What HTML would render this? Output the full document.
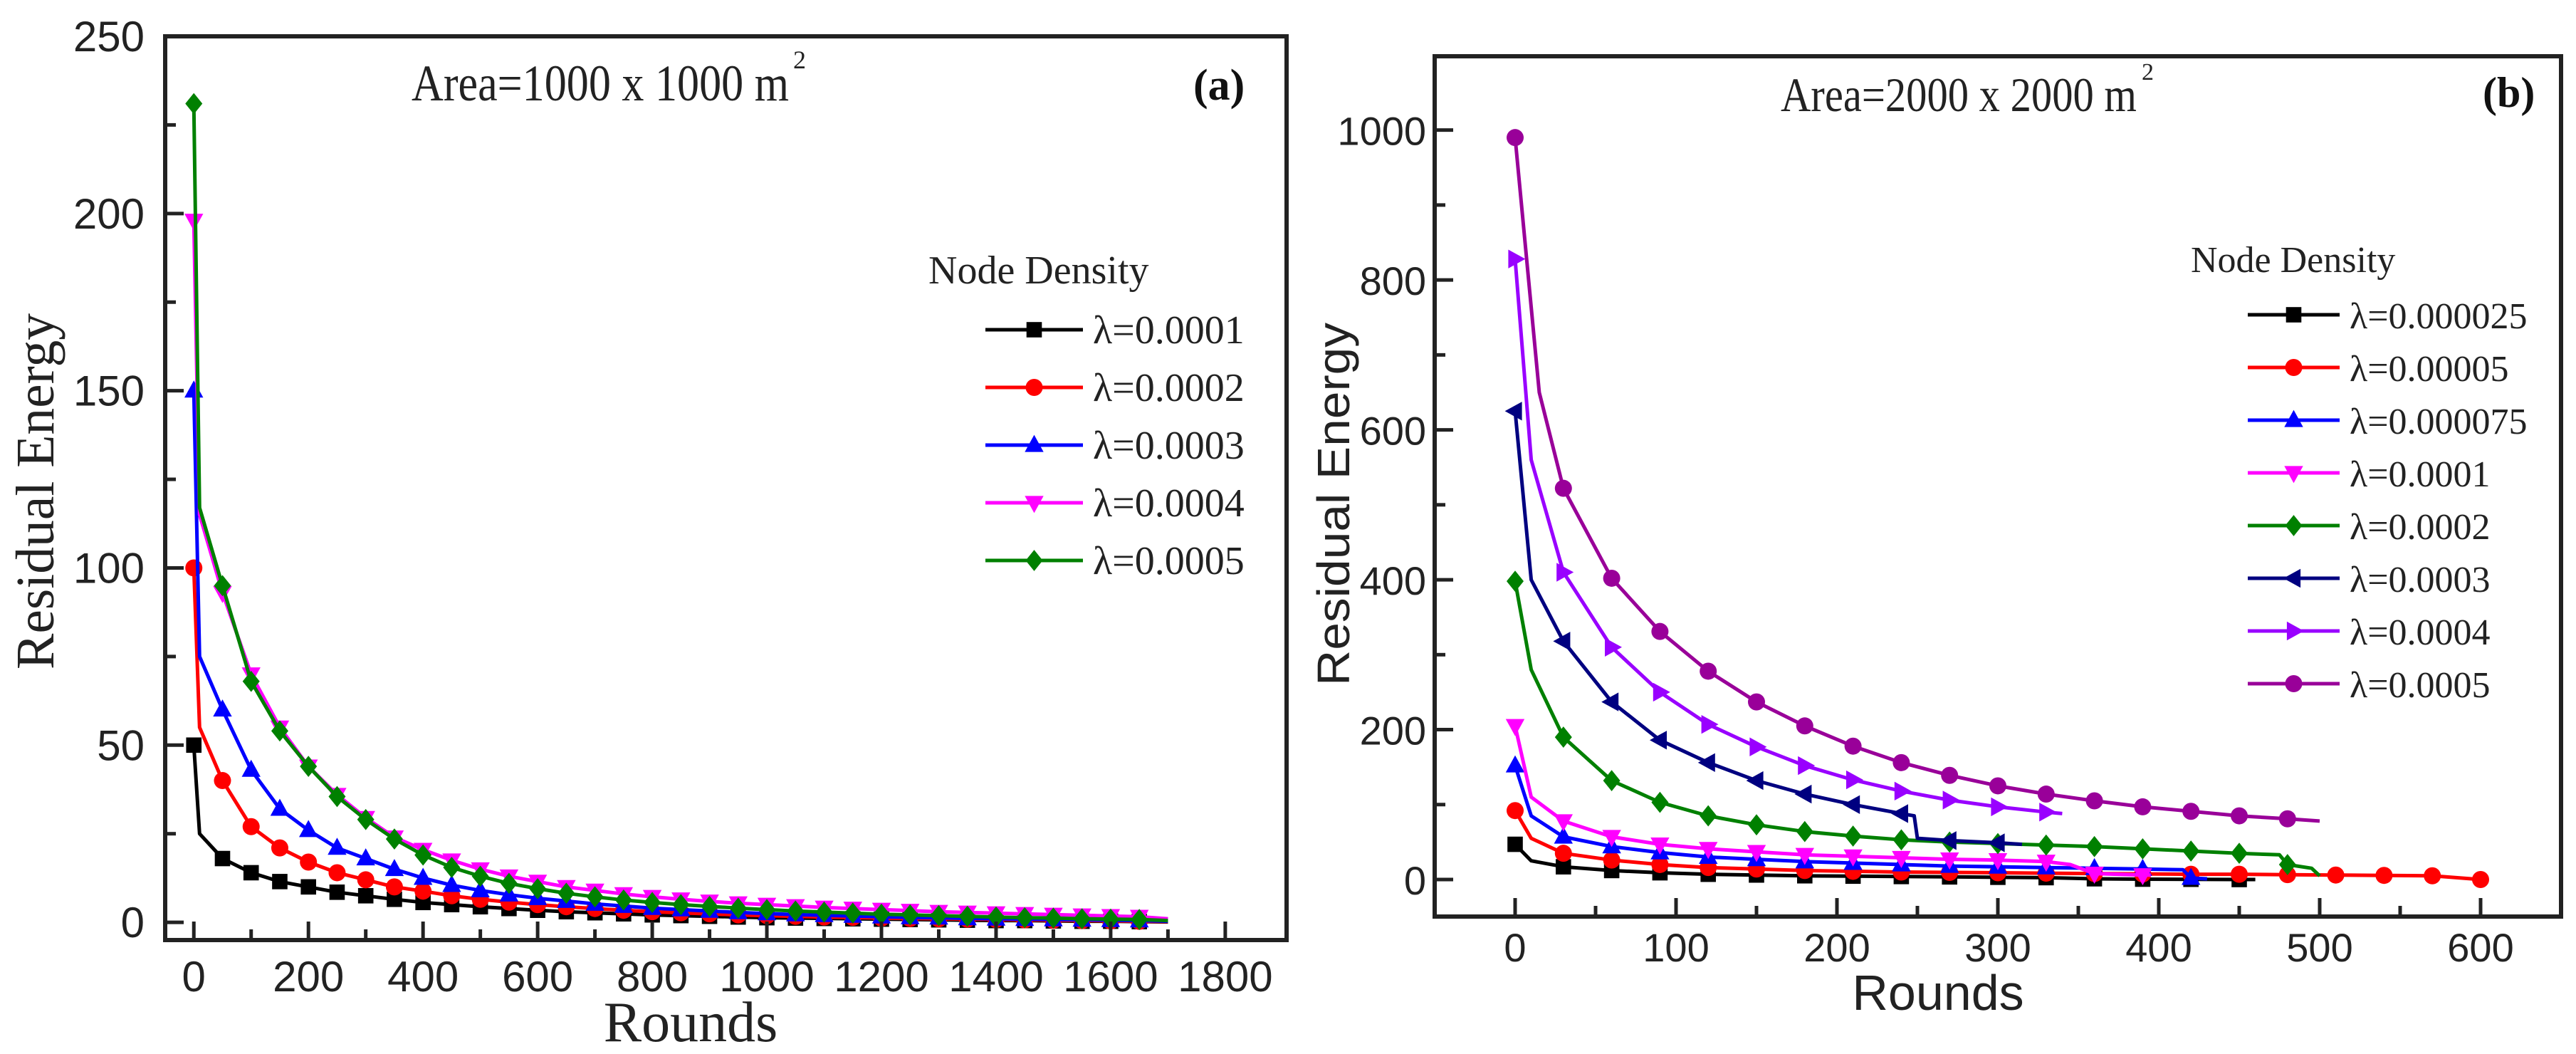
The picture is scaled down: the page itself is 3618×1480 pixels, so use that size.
<!DOCTYPE html>
<html><head><meta charset="utf-8"><style>
html,body{margin:0;padding:0;background:#fff;}
svg{display:block;}
</style></head><body>
<svg id="fig" xmlns="http://www.w3.org/2000/svg" width="3618" height="1480" viewBox="0 0 3618 1480">
<rect x="0" y="0" width="3618" height="1480" fill="#fff"/>
<g id="panelA"></g>
<g id="panelB"></g>
</svg>
<script>
// ---------- Panel (a) data ----------
const aRounds = [0,10,50,100,150,200,250,300,350,400,450,500,550,600,650,700,750,800,850,900,950,1000,1050,1100,1150,1200,1250,1300,1350,1400,1450,1500,1550,1600,1650,1700];
const aL1 = [50,25,18,14,11.5,10,8.5,7.5,6.5,5.6,5,4.4,3.9,3.4,3,2.7,2.4,2.1,1.9,1.7,1.5,1.3,1.2,1.1,1,0.9,0.8,0.7,0.6,0.5,0.5,0.4,0.3,0.3,0.2,0.1];
const aL2 = [100,55,40,27,21,17,14,12,10,8.8,7.5,6.5,5.7,5,4.4,3.9,3.4,3,2.7,2.4,2.1,1.9,1.7,1.5,1.4,1.2,1.1,1,0.9,0.8,0.7,0.6,0.5,0.4,0.3,0.2];
const aL3 = [150,75,60,43,32,26,21,18,15,12.5,10.5,9,7.8,6.8,6,5.2,4.6,4,3.6,3.2,2.8,2.5,2.2,2,1.8,1.6,1.4,1.3,1.1,1,0.9,0.8,0.7,0.6,0.5,0.3];
const aL4 = [198,115,93,70,55,44,36,29.5,24,20.5,17.5,15,13,11.5,10,9,8,7.2,6.5,5.9,5.4,5,4.6,4.2,3.9,3.6,3.3,3,2.8,2.6,2.4,2.2,2,1.8,1.6,1];
const aL5 = [231,117,95,68,54,44,35.5,29,23.5,19,15.5,13,11,9.5,8.2,7.2,6.3,5.6,5,4.5,4,3.6,3.2,2.9,2.6,2.3,2.1,1.9,1.7,1.5,1.3,1.2,1,0.9,0.8,0.5];
const aLabels = ["λ=0.0001","λ=0.0002","λ=0.0003","λ=0.0004","λ=0.0005"];
const aXTicks = [0,200,400,600,800,1000,1200,1400,1600,1800];
const aYTicks = [0,50,100,150,200,250];

// ---------- Panel (b) data ----------
const bR1 = [0,10,30,60,90,120,150,180,210,240,270,300,330,360,390,420,450,460];
const bE1 = [47,25,17,12,9,7,6,5,4.5,4,3.5,3,2.5,1,0.5,0.3,0,0];
const bR2 = [0,10,30,60,90,120,150,180,210,240,270,300,330,360,390,420,450,480,510,540,570,600,605];
const bE2 = [92,55,35,26,20,16,14,12,11,10,9.5,9,8.5,8,7.5,7,7,6.5,6,5.5,5,0,0];
const bR3 = [0,10,30,60,90,120,150,180,210,240,270,300,330,360,390,415,420,430];
const bE3 = [152,85,57,44,36,30,27,24,22,20,18,17,16,15,14,13,2,1];
const bR4 = [0,10,30,60,90,120,150,180,210,240,270,300,330,345,360,390,395];
const bE4 = [205,110,78,57,47,41,37,33,31,29,27,26,24,20,8,6,6];
const bR5 = [0,10,30,60,90,120,150,180,210,240,270,300,330,360,390,420,450,475,480,495,500];
const bE5 = [398,280,190,132,103,85,73,64,58,53,50,48,46,44,41,38,35,33,20,15,5];
const bR6 = [0,10,30,60,90,120,150,180,210,240,248,250,270,300,315];
const bE6 = [625,400,318,237,186,156,132,114,100,88,85,55,52,49,47];
const bR7 = [0,10,30,60,90,120,150,180,210,240,270,300,330,340];
const bE7 = [828,560,410,310,250,207,177,152,133,118,106,97,90,88];
const bR8 = [0,15,30,60,90,120,150,180,210,240,270,300,330,360,390,420,450,480,500];
const bE8 = [990,650,522,402,331,278,237,205,178,156,139,125,114,105,97,91,85,81,78];
const bLabels = ["λ=0.000025","λ=0.00005","λ=0.000075","λ=0.0001","λ=0.0002","λ=0.0003","λ=0.0004","λ=0.0005"];
const bXTicks = [0,100,200,300,400,500,600];
const bYTicks = [0,200,400,600,800,1000];

const NS = "http://www.w3.org/2000/svg";
function el(tag, attrs, parent){const e=document.createElementNS(NS,tag);for(const k in attrs)e.setAttribute(k,attrs[k]);if(parent)parent.appendChild(e);return e;}

function marker(g, shape, cx, cy, s, color){
  let m;
  if(shape==="square") m=el("rect",{x:cx-s*0.45,y:cy-s*0.45,width:s*0.9,height:s*0.9,fill:color},g);
  else if(shape==="circle") m=el("circle",{cx:cx,cy:cy,r:s*0.5,fill:color},g);
  else if(shape==="up") m=el("polygon",{points:`${cx},${cy-s*0.6} ${cx+s*0.55},${cy+s*0.4} ${cx-s*0.55},${cy+s*0.4}`,fill:color},g);
  else if(shape==="down") m=el("polygon",{points:`${cx},${cy+s*0.6} ${cx+s*0.55},${cy-s*0.4} ${cx-s*0.55},${cy-s*0.4}`,fill:color},g);
  else if(shape==="left") m=el("polygon",{points:`${cx-s*0.6},${cy} ${cx+s*0.4},${cy-s*0.55} ${cx+s*0.4},${cy+s*0.55}`,fill:color},g);
  else if(shape==="right") m=el("polygon",{points:`${cx+s*0.6},${cy} ${cx-s*0.4},${cy-s*0.55} ${cx-s*0.4},${cy+s*0.55}`,fill:color},g);
  else m=el("polygon",{points:`${cx},${cy-s*0.62} ${cx+s*0.5},${cy} ${cx},${cy+s*0.62} ${cx-s*0.5},${cy}`,fill:color},g);
  
  
  return m;
}

function drawPanel(P){
  const g=P.g;
  const X=v=>P.px0+(v-P.xmin)/(P.xmax-P.xmin)*(P.px1-P.px0);
  const Y=v=>P.py1-(v-P.ymin)/(P.ymax-P.ymin)*(P.py1-P.py0);
  // series
  P.series.forEach((s,i)=>{
    const sg=el("g",{},g);
    
    
    const pts=s.r.map((r,j)=>X(r).toFixed(1)+","+Y(s.e[j]).toFixed(1)).join(" ");
    const pl=el("polyline",{points:pts,fill:"none",stroke:s.c,"stroke-width":P.lw,"stroke-linejoin":"round"},sg);
    
    
    s.r.forEach((r,j)=>{ if(r%P.mstep===0 && r<=P.mmax) marker(sg,s.shape,X(r),Y(s.e[j]),P.ms,s.c); });
  });
  // frame
  const fr=el("rect",{x:P.px0,y:P.py0,width:P.px1-P.px0,height:P.py1-P.py0,fill:"none",stroke:"#222","stroke-width":6},g);
  
  
  // x ticks
  P.xt.forEach(v=>{
    const t=el("line",{x1:X(v),x2:X(v),y1:P.py1,y2:P.py1-26,stroke:"#222","stroke-width":5},g);
    
    
    const tx=el("text",{x:X(v),y:P.xly,"text-anchor":"middle","font-family":"Liberation Sans, sans-serif","font-size":P.tfs,fill:"#222"},g);
    tx.textContent=v;
    
    
  });
  for(let v=P.xt[0]+P.xminor; v<P.xt[P.xt.length-1]; v+=P.xminor*2){
    const t=el("line",{x1:X(v),x2:X(v),y1:P.py1,y2:P.py1-15,stroke:"#222","stroke-width":5},g);
    
    
  }
  P.yt.forEach(v=>{
    const t=el("line",{x1:P.px0,x2:P.px0+26,y1:Y(v),y2:Y(v),stroke:"#222","stroke-width":5},g);
    
    
    const tx=el("text",{x:P.ylx,y:Y(v)+21,"text-anchor":"end","font-family":"Liberation Sans, sans-serif","font-size":P.tfs,fill:"#222"},g);
    tx.textContent=v;
    
    
  });
  for(let v=P.yt[0]+P.yminor; v<P.yt[P.yt.length-1]; v+=P.yminor*2){
    const t=el("line",{x1:P.px0,x2:P.px0+15,y1:Y(v),y2:Y(v),stroke:"#222","stroke-width":5},g);
    
    
  }
  // legend
  const lt=el("text",{x:P.lgx0-80,y:P.lgTitleY,"font-family":"Liberation Serif, serif","font-size":P.lfs,fill:"#222"},g);
  lt.textContent="Node Density";
  
  
  P.series.forEach((s,i)=>{
    const lg=el("g",{},g);
    
    
    const y=P.lgY0+i*P.lgDy;
    el("line",{x1:P.lgx0,x2:P.lgx1,y1:y,y2:y,stroke:s.c,"stroke-width":P.lw},lg);
    marker(lg,s.shape,(P.lgx0+P.lgx1)/2,y,P.ms,s.c);
    const t=el("text",{x:P.lgx1+14,y:y+19,"font-family":"Liberation Serif, serif","font-size":P.lfs,fill:"#222"},lg);
    t.textContent=P.labels[i];
  });
}

// ---------- Panel a ----------
drawPanel({
  g:document.getElementById("panelA"),
  px0:232,px1:1807,py0:51,py1:1320,
  xmin:-50,xmax:1907,ymin:-5,ymax:250,
  xt:aXTicks,yt:aYTicks,xminor:100,yminor:25,
  xly:1392,ylx:203,tfs:60,lw:5,ms:24,mstep:50,mmax:1650,
  lgx0:1384,lgx1:1521,lgY0:463,lgDy:81,lgTitleY:398,lfs:56,
  labels:aLabels,
  series:[
    {r:aRounds,e:aL1,c:"#000000",shape:"square"},
    {r:aRounds,e:aL2,c:"#ff0000",shape:"circle"},
    {r:aRounds,e:aL3,c:"#0000ff",shape:"up"},
    {r:aRounds,e:aL4,c:"#ff00ff",shape:"down"},
    {r:aRounds,e:aL5,c:"#008000",shape:"diamond"}
  ]
});
// ---------- Panel b ----------
drawPanel({
  g:document.getElementById("panelB"),
  px0:2015,px1:3597,py0:79,py1:1287,
  xmin:-50,xmax:650,ymin:-49.4,ymax:1098.5,
  xt:bXTicks,yt:bYTicks,xminor:50,yminor:100,
  xly:1350,ylx:2003,tfs:56,lw:5,ms:24,mstep:30,mmax:600,
  lgx0:3157,lgx1:3286,lgY0:442,lgDy:74,lgTitleY:382,lfs:52,
  labels:bLabels,
  series:[
    {r:bR1,e:bE1,c:"#000000",shape:"square"},
    {r:bR2,e:bE2,c:"#ff0000",shape:"circle"},
    {r:bR3,e:bE3,c:"#0000ff",shape:"up"},
    {r:bR4,e:bE4,c:"#ff00ff",shape:"down"},
    {r:bR5,e:bE5,c:"#008000",shape:"diamond"},
    {r:bR6,e:bE6,c:"#000080",shape:"left"},
    {r:bR7,e:bE7,c:"#9900ff",shape:"right"},
    {r:bR8,e:bE8,c:"#990099",shape:"circle"}
  ]
});
</script>
<svg style="position:absolute;left:0;top:0" width="3618" height="1480" xmlns="http://www.w3.org/2000/svg">
  <text x="578" y="141" font-family="Liberation Serif, serif" font-size="72" fill="#222" textLength="530" lengthAdjust="spacingAndGlyphs">Area=1000 x 1000 m</text>
  <text x="1114" y="96" font-family="Liberation Serif, serif" font-size="36" fill="#222">2</text>
  <text x="1676" y="140" font-family="Liberation Serif, serif" font-weight="bold" font-size="62" fill="#111">(a)</text>
  <text transform="translate(75,690) rotate(-90)" text-anchor="middle" font-family="Liberation Serif, serif" font-size="76" fill="#222" textLength="500" lengthAdjust="spacingAndGlyphs">Residual Energy</text>
  <text x="970" y="1462" text-anchor="middle" font-family="Liberation Serif, serif" font-size="80" fill="#222">Rounds</text>
  <text x="2501" y="156" font-family="Liberation Serif, serif" font-size="68" fill="#222" textLength="500" lengthAdjust="spacingAndGlyphs">Area=2000 x 2000 m</text>
  <text x="3008" y="112" font-family="Liberation Serif, serif" font-size="34" fill="#222">2</text>
  <text x="3487" y="150" font-family="Liberation Serif, serif" font-weight="bold" font-size="60" fill="#111">(b)</text>
  <text transform="translate(1895,708) rotate(-90)" text-anchor="middle" font-family="Liberation Sans, sans-serif" font-size="64" fill="#222" textLength="510" lengthAdjust="spacingAndGlyphs">Residual Energy</text>
  <text x="2722" y="1418" text-anchor="middle" font-family="Liberation Sans, sans-serif" font-size="70" fill="#222">Rounds</text>
</svg>
</body></html>
